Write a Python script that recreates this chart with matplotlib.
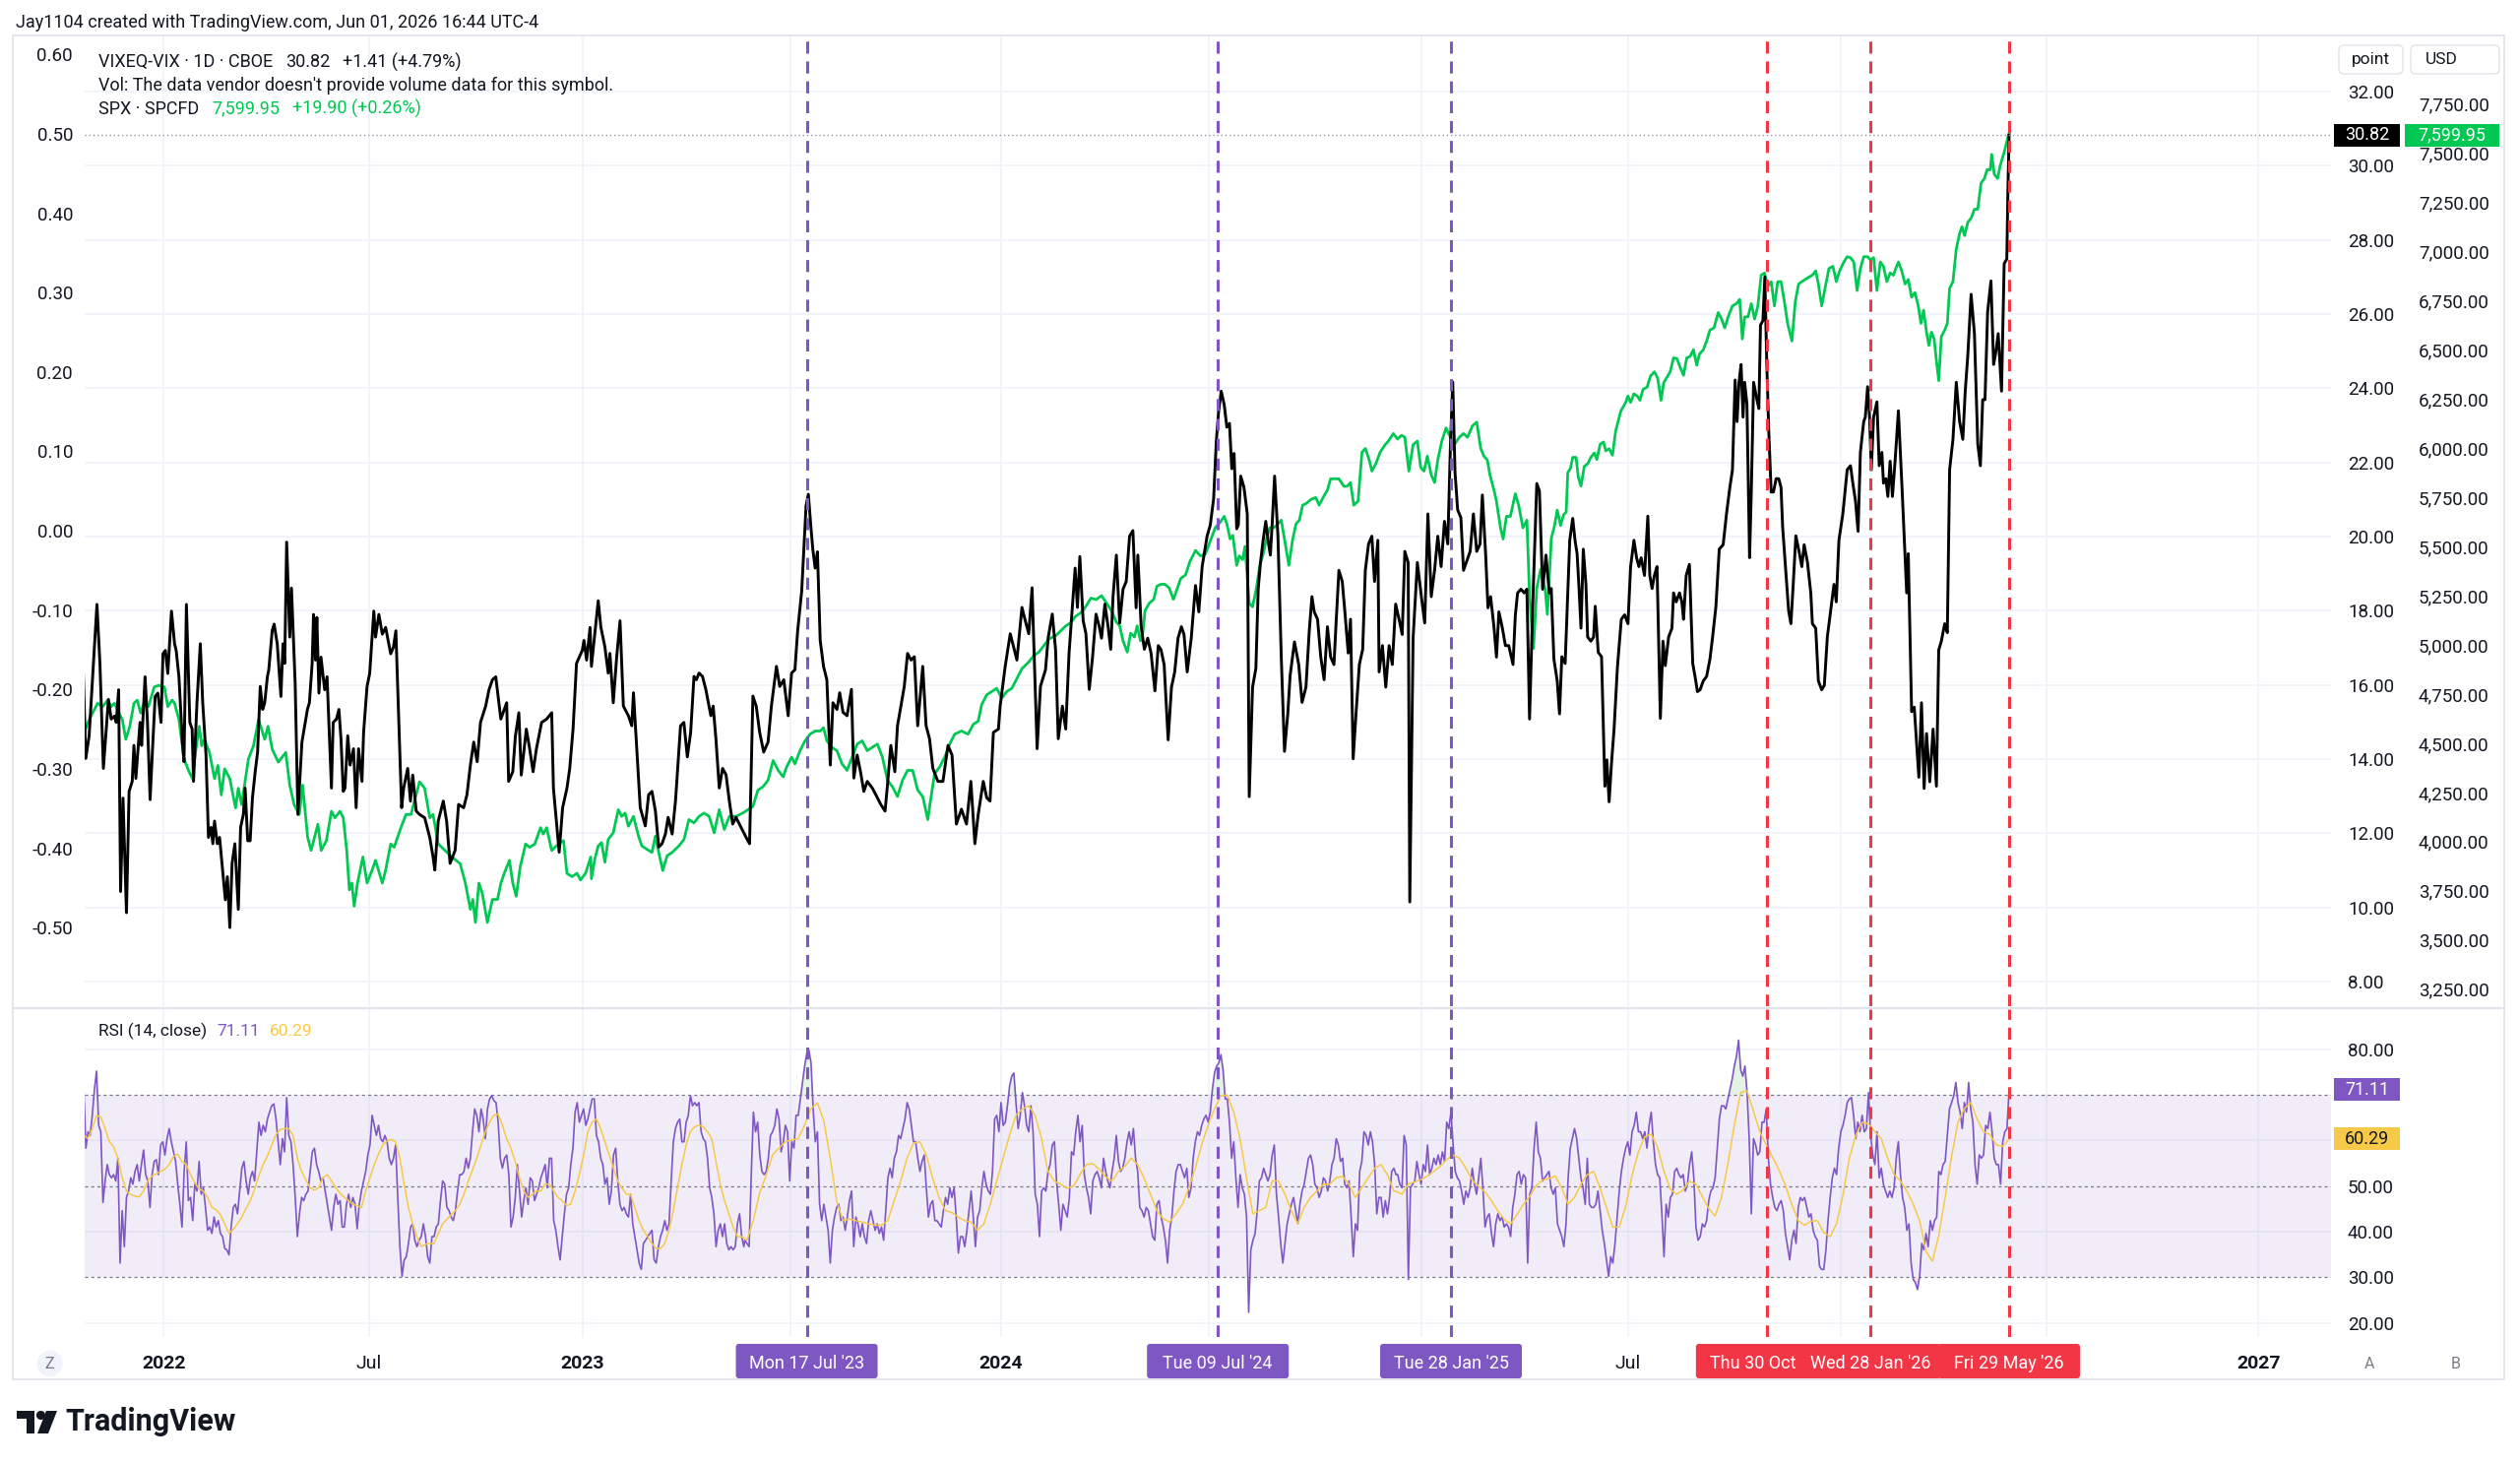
import numpy as np
import pandas as pd
import matplotlib
matplotlib.use("Agg")
import matplotlib.pyplot as plt
import matplotlib.dates as mdates
from matplotlib.patches import Rectangle, FancyBboxPatch, Circle, Polygon
from matplotlib.ticker import FuncFormatter, FixedLocator
from matplotlib.transforms import IdentityTransform
from matplotlib.lines import Line2D

plt.rcParams['font.family'] = ['Roboto', 'DejaVu Sans']
plt.rcParams['axes.unicode_minus'] = False

# ------------------------------------------------------------------
# DATA  (x = calendar days counted from ORIGIN)
# ------------------------------------------------------------------
ORIGIN = "2021-10-01"

# VIXEQ-VIX (point scale)
vix_seg1 = [(23.8,16.52),(26.2,14.02),(29.1,14.63),(35.9,18.17),(38,16.93),(38.5,16.58),(41.5,13.75),(45.9,15.61),(48.3,15.08),(51.2,15.16),(52.7,14.99),(54.8,15.87),(56.5,10.43),(58.6,12.95),(61.6,9.86),(63.9,13.13),(66.6,13.4),(68.1,14.37),(69.8,13.48),(73.4,14.99),(74.8,14.37),(77.8,16.22),(79.9,14.99),(82.2,12.91),(84.6,14.46),(86.6,15.69),(89,15.78),(91.7,14.99),(93.4,16.84),(95.5,16.93),(97.6,16.31),(100.8,17.99),(103.5,17.11),(104.9,16.93),(107.3,16.22),(110.3,14.46),(111.7,13.93),(113.8,18.17),(116.8,14.99),(118.8,14.81),(120,13.4),(123,15.52),(125.9,17.11),(128,15.52),(130.9,14.1),(133,11.89),(135.3,12.16),(136.8,11.72),(138.3,12.33),(140.7,11.72),(142.7,11.89),(144.8,11.19),(147.7,10.21),(149.5,10.83),(151.6,9.46),(153.6,11.19),(156,11.72),(159,9.95),(161,12.16),(163.4,12.51),(164.9,13.22),(167.2,11.8),(169.3,11.8),(171.3,12.95),(173.7,13.66),(175.8,14.19),(178.1,15.96),(180.2,15.34),(182,15.52),(184.3,16.22),(185.5,16.4),(188.5,17.46),(190.2,17.64),(192.9,17.11),(196.1,15.69),(197.9,17.11),(199.4,16.58),(201.1,19.85),(203.8,17.29),(205.3,18.61),(206.5,17.64),(208.5,16.05),(210.9,12.51),(213,13.66),(214.4,14.46),(219.2,15.34),(220.9,15.52),(223.3,16.58),(224.5,17.9),(226.2,16.67),(227.4,17.82),(229.2,15.78),(231,16.75),(234.2,15.87),(236.3,16.22),(240.1,13.22),(241.6,14.99),(244.5,15.08),(246.6,15.34),(248.4,14.55),(250.4,13.13),(251.9,13.22),(254.3,14.63),(256.3,13.84),(259.3,14.28),(261.6,12.69),(263.7,14.28),(266.7,13.4),(268.1,14.72),(271.1,15.96),(273.4,16.31),(277,17.99),(278.5,17.29),(281.4,17.9),(284.4,17.37),(287.3,17.55),(291.7,16.84),(294.1,17.02),(296.2,17.46),(301.2,12.69),(303,13.22),(306.5,13.75),(308.9,12.87),(310.9,13.57),(313.9,12.6),(316.8,12.51),(321.3,12.42),(325.7,11.89),(328.6,11.36),(330.1,11.01),(333.1,12.33),(337.5,12.87),(340.4,12.33),(343.4,11.19),(347.8,11.54),(350.8,12.78),(355.2,12.69),(358.1,13.04),(361.1,13.84),(364,14.46),(367,13.93),(369.9,14.99),(374.4,15.43),(377.3,15.87),(380.3,16.14),(383.2,16.22),(387.6,15.08),(392.7,15.52),(394.4,13.4),(398,13.66),(400.3,14.63),(403.3,15.25),(405.4,13.57),(409.8,14.81),(412.7,14.28),(415.7,13.66),(418.6,14.28),(423.1,14.99),(427.5,15.08),(431.9,15.25),(433.4,13.22),(438.4,11.49),(441.4,12.69),(445.2,13.22),(447.6,13.75),(450.5,14.81),(453.5,16.58),(458.5,16.93),(460,17.2),(462.3,16.67),(465.3,17.55)]
vix_seg2 = [(466.5,16.5),(472.4,18.27),(474.7,17.56),(478.2,17.03),(481.1,16.32),(482.6,16.85),(485.5,15.52),(488.5,16.76),(491.4,17.73),(494.3,15.43),(498.7,15.17),(501.6,14.9),(503.1,15.79),(506,14.28),(509,12.69),(513.4,12.2),(516.3,13.04),(519.2,13.13),(522.2,12.6),(525.1,11.63),(528,11.72),(530.9,11.98),(533.3,12.43),(536.8,11.98),(539.7,12.87),(544.1,14.9),(547,14.99),(550,14.06),(552.9,14.72),(555.8,16.23),(557.9,16.14),(560.2,16.32),(563.2,16.23),(566.1,15.88),(570.5,15.17),(572.5,15.43),(574.9,14.55),(577.8,13.22),(580.7,13.75),(583.7,13.58),(586.6,12.87),(589.5,12.25),(592.4,12.43),(596.8,12.16),(601.2,11.89),(604.2,11.72),(607.1,15.7),(610,15.43),(613,14.72),(616.5,14.19),(620.3,14.46),(623.2,15.43),(627.6,16.5),(630.5,15.96),(634,16.14),(637.8,15.17),(640.8,16.32),(643.7,16.41),(646.1,17.47),(649.6,18.53),(653.4,20.83),(655.4,21.14),(657.5,20.3),(659.2,19.68),(661.3,19.15),(663.3,19.59),(665.7,17.2),(668.6,16.5),(671.5,16.14),(674.5,13.84),(676.8,15.52),(680.3,15.34),(682.7,15.79),(685.6,15.26),(689.1,15.17),(692.9,15.88),(695,13.49),(697.9,14.11),(700.8,13.66),(703.7,13.13),(706.7,13.4),(711.1,13.22),(715.5,12.96),(718.4,12.78),(722.2,12.6),(724.3,13.31),(727.2,14.37),(730.7,13.66),(733,14.9),(736,15.43),(738.9,15.96),(741.8,16.85),(744.8,16.67),(747.7,16.76),(750.6,14.9),(755,16.5),(757.9,14.9),(760.9,14.55),(763.8,13.75),(768.2,13.4),(772.6,13.4),(777,14.37),(780.5,14.11),(784.3,12.25),(788.7,12.65),(793.1,12.25),(796.9,13.4),(800.4,11.72),(803.3,12.51),(807.7,13.4),(810.7,12.96),(813.6,12.87),(816.5,14.72),(820.9,14.81),(822.4,15.43),(826.8,16.5),(831.2,17.38),(834.1,17.03),(837,16.67),(841.4,18.09),(844.3,17.73),(847.3,17.38),(850.2,18.62),(852.5,16.32),(854.6,14.28),(857.5,15.96),(861.9,16.41),(864.3,17.29),(867.8,17.91),(870.7,16.94),(873,14.55),(876.6,15.43),(879.5,14.81),(882.4,16.85),(887.7,19.15),(889.7,18.09),(891.8,19.46),(894.7,17.73),(897.1,17.38),(900,15.88),(902.9,16.76),(905.9,17.91),(908.8,17.56)]
vix_seg3 = [(910.7,17.26),(913.6,18.18),(916.4,17.57),(918.7,16.96),(920.7,18.38),(923.6,19.5),(926.5,17.67),(929.4,18.58),(932.2,18.79),(935.1,20.01),(938,20.16),(940.8,18.08),(942.3,19.5),(945.2,17.57),(948,16.96),(950.9,17.26),(953.8,16.86),(957.2,15.84),(960.1,17.06),(962.4,16.96),(965.2,16.55),(968.7,14.52),(971.6,15.94),(974.4,16.35),(977.3,17.26),(980.2,17.57),(982.5,17.36),(985.3,16.35),(988.8,17.26),(992.5,18.68),(995.4,17.97),(998.3,19.19),(1002.6,20.01),(1005.4,20.31),(1008.3,21.02),(1010.6,22.55),(1012.6,23.36),(1014.9,23.92),(1017.5,23.56),(1019.8,22.95),(1022.1,23.05),(1024.1,21.83),(1026.1,22.24),(1028.4,20.21),(1029.8,20.31),(1031.9,21.63),(1034.7,21.33),(1037.6,20.61),(1039.3,12.99),(1042.2,15.94),(1045.1,16.45),(1047.1,18.58),(1049.1,19.3),(1051.4,19.9),(1053.7,20.41),(1055.7,19.9),(1057.7,19.5),(1059.4,20.41),(1061.4,21.63),(1064.3,20.01),(1067.2,16.75),(1070,14.21),(1072.9,15.23),(1074.9,16.25),(1078.7,17.16),(1082.4,16.55),(1085.3,15.53),(1088.7,15.94),(1091.6,17.47),(1093.9,18.38),(1095.9,17.97),(1098.8,17.77),(1101.6,16.75),(1104.5,16.14),(1107.4,17.57),(1110.2,16.75),(1113.1,16.55),(1115.1,17.77),(1117.4,19.09),(1120.3,18.79),(1122.6,17.97),(1125.5,16.86),(1127.5,17.77),(1129.8,14.01),(1132.3,15.23),(1135.2,16.55),(1138.1,16.96),(1140.4,19.09),(1143.2,19.8),(1146.1,20.01),(1148.4,18.79),(1151.3,19.9),(1152.4,16.35),(1155.3,17.06),(1158.2,15.94),(1161.1,17.06),(1163.9,16.55),(1166.8,18.18),(1170.5,17.67),(1172.5,17.36),(1174.8,19.6),(1177.7,19.3),(1179.1,10.15),(1182,17.26),(1185.7,19.3),(1189.2,18.38),(1192.1,17.67),(1194.9,20.61),(1197.8,18.38),(1200.7,19.09),(1203.5,20.01),(1206.4,19.19),(1209.3,20.41),(1212.2,19.8),(1214.5,22.45),(1216.5,24.17),(1218.5,21.73),(1220.8,20.72),(1223.6,20.51),(1225.9,19.09),(1229.4,19.4),(1231.7,19.6),(1234.5,20.61),(1237.4,19.6),(1240.3,19.8),(1242.3,21.12),(1245.2,19.5),(1247.2,18.08),(1249.5,18.38),(1252.4,17.57),(1254.6,16.75),(1256.7,17.97),(1259.5,17.57),(1262.4,17.06),(1265.3,17.06),(1269,16.55),(1271,17.87),(1273,18.48),(1275.9,18.58),(1278.8,18.48),(1281.1,18.58),(1283.4,15.08),(1286.2,18.18),(1289.7,21.43),(1292,21.23),(1294.8,18.58),(1297.7,19.5),(1300.6,18.48)]
vix_seg4 = [(1302.3,18.6),(1304.6,16.7),(1307.5,16.11),(1309.5,15.22),(1311.5,16.76),(1314.4,16.58),(1316.7,18.48),(1318.4,19.9),(1321,20.49),(1323,19.9),(1324.8,19.54),(1326.5,18.6),(1328.2,17.53),(1330.2,19.66),(1332.5,18.71),(1334,17.29),(1336.8,17.18),(1339.2,17.29),(1340.6,18.12),(1343.2,16.88),(1346.1,16.76),(1349,13.27),(1350.7,13.98),(1352.7,12.85),(1354.7,13.86),(1357,14.81),(1359.9,16.47),(1363.3,17.77),(1366.2,17.89),(1369.1,17.65),(1371.4,19.19),(1374.3,19.9),(1376.6,19.43),(1378.6,19.19),(1380.6,19.43),(1383.5,18.95),(1386.4,20.55),(1388.1,18.95),(1390.1,18.6),(1392.1,18.95),(1394.4,19.19),(1397.3,15.1),(1399.6,17.18),(1401.6,16.52),(1404.5,17.29),(1407.4,17.53),(1408.8,18.48),(1411.1,18.24),(1414,18.48),(1416,18.24),(1417.5,17.77),(1419.8,18.95),(1422.6,19.25),(1425.5,16.58),(1427.5,16.23),(1429.6,15.82),(1431.9,15.87),(1434.7,16.11),(1437.6,16.23),(1440.5,16.7),(1442.8,17.29),(1445.7,18.12),(1448.6,19.66),(1452,19.78),(1454.9,20.61),(1457.8,21.32),(1460.1,21.8),(1462.4,24.22),(1464.1,23.1),(1465.8,24.16),(1467.6,24.64),(1469.3,23.22),(1470.7,24.16),(1472.7,23.57),(1475,19.43),(1476.5,21.2),(1478.5,24.16),(1481.4,23.69),(1483.1,23.45),(1484.5,25.7),(1486.6,25.82),(1488.3,27.0),(1490,24.64),(1491.7,22.86),(1493.8,21.2),(1495.8,21.2),(1498.1,21.56),(1500.4,21.56),(1502.4,21.32),(1503.8,20.25),(1507.3,18.71),(1509,18.0),(1511,17.65),(1513,18.71),(1515.3,20.02),(1517.7,19.66),(1520.5,19.19),(1522.5,19.78),(1525.4,19.31),(1528.3,18.48),(1529.7,17.65),(1532.6,17.53),(1534.9,16.11),(1537.8,15.87),(1540.1,15.99),(1542.7,17.29),(1545.6,18.0),(1548.5,18.71),(1550.5,18.24),(1552.8,19.9),(1556.2,20.61),(1560,21.8),(1562.9,21.91),(1564.9,21.44),(1567.2,20.97),(1569.5,20.14),(1571.5,22.27),(1574.4,23.1),(1575.8,23.22),(1577.8,24.04),(1579.5,23.22),(1581,21.8),(1583,23.22),(1585.9,23.63),(1587.9,21.91),(1590.2,22.27),(1591.6,21.44),(1593.7,21.56),(1595.4,21.08),(1597.4,22.03),(1599.4,21.08),(1601.7,22.03),(1604.6,23.39),(1608.1,21.08),(1611.8,18.48),(1613.2,19.54),(1616.1,15.28),(1618.4,15.4),(1620.4,14.45),(1622.4,13.51),(1624.7,15.52),(1627,13.21),(1629.1,14.69),(1631.9,13.39),(1634.8,14.81),(1637.7,13.27),(1639.7,16.94),(1642,17.18),(1644.9,17.65),(1647.2,17.41),(1649.2,21.8),(1652.1,22.62),(1655,24.16),(1657.9,23.1),(1660.7,22.62),(1662.8,23.92),(1665,24.87),(1667.9,26.53),(1670.8,25.47),(1673.7,22.5),(1676,21.91),(1678,23.69),(1680,23.69),(1682.3,26.06),(1685.2,26.89),(1687.5,24.64),(1689.5,24.99),(1691.5,25.47),(1694.4,23.92),(1696.7,27.36),(1699,27.48),(1700,29.41),(1701,30.82)]

# SPX (USD scale)
spx_seg1 = [(24.7,4553),(29.1,4620),(36.5,4703),(40.9,4686),(45.3,4719),(48.3,4686),(51.2,4703),(55.1,4653),(58,4620),(61,4520),(64.5,4586),(68.1,4703),(71,4719),(74,4653),(77.8,4719),(80.7,4686),(85.8,4786),(89.6,4794),(94.6,4786),(97.6,4686),(101.4,4719),(103.5,4703),(107.3,4620),(111.7,4420),(116.2,4354),(119.1,4320),(122.1,4470),(125,4586),(127.1,4487),(129.4,4520),(133.9,4453),(138.3,4320),(141.2,4387),(144.2,4237),(147.1,4370),(151.6,4320),(156.6,4171),(159,4271),(161.9,4188),(167.8,4420),(172.2,4487),(176.7,4620),(182,4520),(184.9,4586),(188.5,4470),(193.8,4404),(200.3,4453),(203.8,4287),(207.6,4188),(212.1,4138),(215,4287),(219.4,4021),(222.4,3955),(228.3,4088),(231.2,3955),(235.7,4005),(240.1,4154),(243.1,4121),(247.5,4154),(250.4,4121),(253.4,3955),(255.7,3755),(257.8,3789),(259.9,3672),(262.8,3789),(267.5,3922),(271.1,3789),(275.5,3855),(278.5,3905),(284.4,3789),(287.3,3855),(291.7,3988),(294.7,3971),(300.6,4071),(305,4138),(309.4,4138),(316.8,4304),(321.3,4271),(325.7,4121),(328.6,4138),(333.1,3988),(339,3955),(344.9,3922),(352.2,3888),(356.7,3789),(361.1,3656),(363.2,3706),(365.5,3589),(368.5,3789),(371.4,3739),(375.9,3589),(380.3,3706),(384.7,3706),(387.7,3789),(390.6,3839),(395.1,3905),(398,3789),(401,3722),(404.5,3872),(409.2,3988),(412.7,3971),(417.2,3988),(422.2,4071),(424.5,4038),(427.5,4071),(431.9,3955),(437.8,3988),(442.2,4005),(445.2,3838),(449.6,3822),(454,3839),(457,3805),(461.4,3839),(465.9,3922)]
spx_seg2 = [(466.5,3811),(469.4,3911),(472.4,3978),(475.3,3995),(478.2,3895),(481.1,4011),(485.5,4045),(489.9,4162),(492.9,4128),(495.8,4145),(498.7,4078),(503.1,4128),(507.5,4028),(510.4,3978),(514.8,3961),(519.2,3945),(522.2,4028),(525.1,3945),(528.6,3853),(532.4,3928),(536.8,3945),(542.7,3978),(547.1,4011),(551.4,4112),(555.8,4095),(560.2,4128),(564.6,4145),(569,4128),(573.4,4045),(577.8,4162),(582.2,4062),(586.6,4128),(592.4,4128),(598.3,4145),(602.7,4162),(607.1,4178),(611.5,4262),(615.9,4279),(620.3,4312),(624.7,4412),(629.1,4362),(633.5,4329),(636.4,4379),(640.8,4429),(643.7,4395),(648.1,4462),(652.5,4512),(656.9,4546),(661.3,4562),(665.7,4562),(668.6,4579),(671.5,4512),(675.9,4479),(680.3,4462),(684.7,4395),(689.1,4362),(693.5,4429),(697.9,4496),(702.3,4512),(706.7,4462),(711.1,4479),(715.5,4496),(719.9,4429),(724.3,4312),(728.6,4279),(733,4229),(737.4,4312),(741.8,4362),(746.2,4362),(750.6,4262),(755,4229),(759.4,4112),(762.3,4229),(765.3,4345),(769.7,4379),(774.1,4429),(778.5,4496),(782.8,4546),(788.7,4562),(794.5,4546),(799,4596),(803.3,4612),(806.3,4696),(810.7,4746),(815.1,4763),(819.4,4779),(823.8,4729),(828.2,4763),(832.6,4779),(837,4829),(841.4,4879),(847.3,4913),(851.7,4946),(856.1,4963),(860.5,4996),(864.8,5030),(870.7,5046),(875.1,5071),(879.5,5096),(883.9,5113),(888.3,5146),(892.7,5163),(897.1,5196),(901.5,5238),(905.9,5230)]
spx_seg3 = [(910.7,5250),(915,5212),(919.3,5174),(923.6,5116),(926.5,5097),(929.4,5021),(933.1,4963),(936,5059),(939.4,5040),(941.7,5097),(944.6,5021),(946.6,5059),(948.6,5174),(952.3,5212),(956.1,5231),(958.9,5298),(962.4,5308),(965.8,5308),(969.6,5289),(973.3,5231),(976.2,5279),(979.6,5337),(983.9,5356),(987.6,5423),(992.5,5480),(996.8,5452),(1001.1,5461),(1005.4,5528),(1009.7,5595),(1014.1,5624),(1017.5,5653),(1019.8,5615),(1022.7,5538),(1025,5557),(1028.4,5404),(1030.7,5452),(1033.6,5433),(1035.6,5500),(1039.3,5212),(1042.2,5193),(1045.6,5289),(1048.5,5404),(1051.4,5461),(1054.3,5538),(1057.1,5595),(1060.6,5595),(1064.3,5615),(1067.2,5634),(1070,5538),(1073.8,5404),(1077.2,5538),(1080.1,5615),(1083,5634),(1085.8,5710),(1089.3,5720),(1093,5739),(1097.3,5749),(1100.2,5710),(1103.6,5749),(1107.4,5787),(1110.2,5844),(1114,5844),(1117.4,5844),(1121.7,5806),(1124.6,5806),(1127.5,5825),(1130.3,5710),(1134.1,5730),(1137.5,5979),(1140.4,5998),(1143.8,5940),(1146.1,5883),(1149.6,5921),(1153.3,5979),(1157.6,6017),(1160.5,6036),(1164.8,6074),(1168.5,6046),(1172,6065),(1174.8,6055),(1178.3,5883),(1182,6017),(1185.7,6036),(1188.6,5902),(1191.5,5883),(1194.4,5959),(1197.8,5864),(1200.7,5825),(1203.5,5940),(1207,6036),(1210.7,6103),(1214.5,6055),(1217.9,6017),(1222.2,6055),(1225.9,6074),(1229.4,6055),(1233.7,6113),(1237.4,6132),(1240.9,5998),(1243.7,5959),(1246.6,5940),(1248.9,5864),(1252.4,5787),(1254.6,5730),(1258.1,5595),(1260.4,5538),(1263.3,5653),(1266.7,5653),(1271,5768),(1273.9,5710),(1277.6,5595),(1281.1,5634),(1283.4,5250),(1286.8,4982),(1289.7,5289),(1293.1,5385),(1296.9,5289),(1298.9,5155),(1301.7,5461)]
spx_seg4 = [(1302.3,5540),(1305.2,5607),(1307.5,5685),(1310.4,5607),(1313.2,5663),(1315.3,5674),(1316.7,5875),(1319,5897),(1321,5953),(1323.9,5953),(1325.9,5852),(1328.2,5807),(1331.1,5908),(1334,5920),(1336.8,5953),(1339.7,5975),(1342,5942),(1344.9,6020),(1347.8,6031),(1349.8,5986),(1352.7,5997),(1355.6,5964),(1358.4,6087),(1362.8,6187),(1367.1,6232),(1369.1,6265),(1371.4,6232),(1374.3,6276),(1377.2,6265),(1379.5,6243),(1382.3,6299),(1385.8,6310),(1388.7,6366),(1392.1,6388),(1395,6355),(1397.9,6243),(1400.2,6332),(1403.6,6366),(1405.9,6388),(1408.8,6459),(1411.7,6455),(1414.6,6410),(1417.5,6370),(1420.3,6459),(1423.2,6466),(1426.1,6500),(1429,6421),(1431.3,6477),(1434.7,6500),(1437.6,6544),(1440.5,6600),(1444,6611),(1447.7,6689),(1450.6,6656),(1453.4,6611),(1456.3,6667),(1460.1,6723),(1463.5,6734),(1466.4,6756),(1468.7,6555),(1470.7,6667),(1473.6,6667),(1476.5,6734),(1479.4,6656),(1482.2,6723),(1485.1,6879),(1488,6890),(1490.9,6823),(1493.8,6846),(1496.6,6723),(1499.5,6846),(1502.4,6846),(1505.3,6745),(1508.1,6634),(1511.9,6544),(1514.8,6745),(1517.7,6834),(1520.5,6846),(1523.4,6857),(1526.3,6868),(1529.7,6879),(1532.6,6901),(1534.9,6834),(1537.8,6723),(1540.7,6812),(1544.1,6913),(1547.6,6924),(1550.5,6846),(1553.4,6901),(1557.1,6946),(1560,6973),(1562.9,6968),(1565.7,6946),(1568.6,6801),(1571.5,6913),(1574.4,6973),(1577.8,6973),(1580.1,6957),(1583,6968),(1585.9,6801),(1588.8,6946),(1591.6,6924),(1594.5,6846),(1597.4,6890),(1600.3,6879),(1602.3,6913),(1604.6,6946),(1607.5,6901),(1610.4,6834),(1613.2,6857),(1616.1,6767),(1619,6790),(1621.9,6723),(1624.2,6634),(1626.5,6701),(1629.1,6589),(1631.1,6522),(1633.4,6589),(1635.7,6555),(1637.7,6444),(1639.7,6343),(1642,6567),(1644.9,6600),(1647.2,6634),(1649.2,6812),(1652.1,6846),(1655,7013),(1657.9,7091),(1659.9,7125),(1662.2,7080),(1665,7147),(1667.9,7169),(1670.8,7214),(1673.7,7214),(1676.6,7348),(1679.5,7370),(1681.8,7415),(1684.6,7415),(1685.8,7493),(1688.1,7392),(1691,7370),(1693.3,7437),(1696.7,7504),(1700,7580.05),(1701,7599.95)]

# RSI(14) and its moving average, read at evenly spaced dates inside each span
rsi_seg1_span = (24.4, 599.2)
rsi_seg1 = [71.6,58.3,61.9,61.1,65.5,71.2,75.2,63.3,61.9,46.4,51.1,54.7,52.5,51.8,52.5,51.1,56.1,33.1,44.6,36.7,47.5,48.9,51.8,50.4,53.2,54.7,51.1,54.7,57.9,52.5,51.1,45.3,52.5,55.4,55.8,52.5,59.0,59.7,56.8,60.4,62.6,59.7,57.5,55.4,50.4,46.0,41.0,53.2,59.7,46.8,47.5,42.4,50.4,48.9,55.4,48.2,49.6,45.3,40.3,41.0,39.6,43.2,41.0,42.4,39.6,38.9,36.3,36.0,34.9,41.0,45.3,46.0,43.9,48.9,53.9,55.4,51.1,48.2,51.8,53.2,51.1,57.5,64.0,61.1,63.3,61.9,64.7,66.2,67.6,68.0,64.7,59.7,54.7,60.4,57.5,69.4,61.1,59.7,54.7,47.5,38.9,43.9,47.5,46.8,48.2,48.9,53.2,57.5,58.3,54.7,53.2,51.1,51.8,48.9,46.0,43.2,40.3,45.3,48.2,46.0,46.8,41.0,41.0,46.0,48.2,45.3,47.5,46.0,40.6,46.0,48.9,51.1,53.2,56.8,59.0,65.5,63.3,61.1,63.3,60.4,59.7,61.1,59.7,56.1,54.7,56.1,59.0,47.5,36.7,30.2,33.8,34.5,37.4,41.0,41.7,38.1,36.7,38.1,38.9,41.7,38.9,34.5,33.1,38.9,38.9,41.0,41.7,46.8,51.1,50.4,45.3,44.6,43.2,42.4,44.6,48.9,52.5,52.5,53.2,56.1,53.9,56.1,61.9,66.9,65.5,61.9,66.9,64.7,60.4,66.9,69.1,69.8,68.7,68.3,64.0,56.1,53.9,56.1,56.8,52.5,41.0,43.2,47.5,54.7,48.9,43.2,46.8,49.6,46.0,51.8,51.1,46.8,48.2,49.6,51.8,53.2,54.7,49.6,56.1,56.1,42.4,40.3,36.7,33.8,38.9,43.9,48.2,49.6,54.7,58.3,66.2,68.3,64.0,65.5,66.9,63.3,64.7,66.9,69.1,69.1,61.1,59.7,56.1,54.7,50.4,51.8,46.0,48.9,56.8,58.3,51.1,46.0,44.6,45.3,43.9,43.2,48.2,41.7,38.9,36.0,33.1,31.7,37.4,38.1,38.9,39.6,40.3,33.8,33.1,36.7,38.9,40.3,42.4,40.3,41.7,51.1,59.7,62.6,64.0,64.7,59.7,59.7,64.0,65.5,69.8,67.6,68.3,67.6,68.3,61.9,60.4,59.7,56.1,49.6,47.5,43.9,36.7,40.3,41.7,38.9,41.7,37.4,36.0,36.7,36.0,36.7,41.7,43.9,38.9,36.7]
rsi_seg2_span = (600.1, 1167.1)
rsi_seg2 = [38.1,37.4,36.7,52.5,66.2,61.9,64.0,56.8,53.2,52.5,53.2,56.1,61.1,61.9,63.3,66.9,64.7,57.5,59.7,63.3,61.9,51.1,59.7,58.3,65.5,65.5,69.1,72.7,76.3,79.1,79.8,77.0,66.9,59.7,61.9,46.0,42.4,46.0,43.2,40.3,33.1,40.3,43.2,45.3,46.0,42.4,43.2,40.3,43.2,46.8,48.9,36.7,43.2,41.7,38.9,41.7,38.9,37.4,42.4,44.6,42.4,40.3,41.7,39.6,41.0,38.1,44.6,51.8,53.9,51.8,56.1,57.5,61.1,60.4,62.6,64.7,68.3,66.9,63.3,59.7,59.7,56.1,53.2,55.4,56.8,49.6,43.2,46.0,46.8,42.4,42.4,41.7,41.0,44.6,47.5,46.0,49.6,47.5,49.6,43.2,35.3,38.9,38.9,36.7,40.3,44.6,48.9,43.2,36.7,43.2,44.6,49.6,53.2,50.4,48.9,48.2,53.2,64.7,65.5,61.9,68.3,63.3,64.0,67.6,71.9,74.1,74.8,68.3,62.6,65.5,70.5,67.6,63.3,61.9,67.6,61.9,48.2,46.0,38.9,48.9,49.6,48.9,53.2,54.7,59.0,59.7,51.1,46.0,40.3,46.0,44.6,43.2,47.5,57.5,56.8,61.9,65.5,59.7,63.3,52.5,49.6,47.5,43.9,51.1,52.5,53.2,51.8,49.6,56.1,53.2,51.1,49.6,53.2,56.1,61.1,55.4,53.2,53.9,56.1,59.7,61.9,59.0,62.6,56.1,53.2,45.3,44.6,43.2,45.3,44.6,41.7,38.9,38.1,46.0,46.8,43.2,41.0,38.1,33.1,40.3,43.2,48.9,53.2,54.7,54.7,53.2,51.8,53.9,47.5,49.6,56.1,59.7,61.9,61.1,63.3,64.7,65.5,64.0,66.2,71.2,74.8,76.3,77.0,78.8,75.5,69.1,69.1,64.0,56.1,59.7,51.8,45.3,52.5,49.6,48.2,43.2,22.3,36.0,38.1,39.6,44.6,51.1,51.8,53.9,52.5,51.1,52.5,56.8,59.0,48.2,43.2,37.4,33.1,37.4,41.7,43.9,46.0,47.5,44.6,41.7,46.0,48.9,50.4,53.2,56.1,56.8,54.7,50.4,49.6,47.5,48.9,51.8,51.1,48.9,51.1,54.7,56.1,60.4,59.0,55.4,56.1,50.4,49.6,51.1,43.2,34.5,41.7,40.3,53.2,55.4,61.9,61.1,59.0,61.9,59.7,54.7,43.9,47.5,47.5,43.2,46.8,43.9,47.5,53.2,53.9,52.5]
rsi_seg3_span = (1168.6, 1701.0)
rsi_seg3 = [52.5,50.4,49.6,61.1,59.0,29.5,49.6,50.4,51.1,55.4,52.5,50.4,54.7,53.2,59.0,52.5,53.9,56.1,54.7,56.8,54.7,57.5,55.4,64.0,62.6,66.2,59.0,53.2,51.8,51.1,48.9,46.0,48.9,47.5,49.6,53.9,50.4,48.2,51.8,56.1,49.6,41.0,43.2,43.9,39.6,36.7,41.7,43.9,42.4,43.2,41.0,41.7,41.0,38.9,45.3,48.2,52.5,53.2,50.4,52.5,51.8,33.1,48.2,49.6,58.3,64.0,57.5,56.1,51.1,51.8,52.5,53.2,49.6,48.2,49.6,41.7,40.3,38.9,36.7,41.7,51.8,58.3,60.4,62.6,60.4,56.1,51.8,49.6,46.0,56.1,46.0,45.3,45.3,46.0,48.9,44.6,40.3,37.4,33.8,30.2,34.5,33.1,37.4,43.2,48.9,53.2,56.1,58.3,59.7,56.8,61.9,63.3,66.2,61.9,61.9,60.4,61.9,58.3,63.3,66.2,59.7,54.7,52.5,51.8,43.9,34.5,46.0,43.2,47.5,48.2,53.2,53.9,52.5,51.8,52.5,48.9,50.4,54.7,57.5,51.8,41.0,38.1,38.9,41.7,41.0,42.4,46.8,48.9,49.6,51.8,58.3,64.7,67.6,67.6,66.9,69.1,71.2,73.4,76.3,78.4,82.0,75.5,74.1,76.3,70.5,60.4,43.9,60.4,59.0,56.8,57.5,64.0,64.0,66.9,56.1,50.4,47.5,45.3,44.6,46.0,46.8,44.6,39.6,36.7,33.8,38.1,40.3,37.4,45.3,47.5,46.8,47.5,45.3,43.2,43.9,40.3,38.9,38.1,32.4,31.7,31.7,36.0,42.4,47.5,51.8,53.9,52.5,58.3,61.9,63.3,65.5,68.3,69.1,69.4,65.5,60.4,64.0,61.9,65.5,61.9,62.6,70.5,61.1,56.8,54.7,61.9,51.8,53.9,50.4,48.9,47.5,48.9,47.5,49.6,56.1,59.7,52.5,47.5,45.3,40.3,41.7,33.1,29.5,28.8,27.3,30.2,37.4,36.0,39.6,36.7,42.4,40.3,42.4,43.2,53.2,52.5,54.7,55.4,61.1,66.9,68.3,69.8,72.7,68.3,66.2,62.6,68.3,66.2,72.7,66.9,64.0,54.7,50.4,56.8,56.1,56.8,63.3,62.6,66.2,61.9,56.1,54.7,54.7,50.4,59.7,61.9,62.6,71.11]

ma_seg1_span = (24.4, 597.3)
ma_seg1 = [61.1,60.4,62.6,65.5,65.1,62.6,59.7,58.6,56.1,51.8,48.9,48.1,47.8,47.6,48.9,51.1,52.2,52.7,53.2,53.7,54.7,56.5,57.0,55.4,54.7,52.5,50.7,49.4,48.9,47.5,45.3,44.8,43.7,41.7,39.6,40.5,41.7,43.2,45.1,46.8,49.3,52.3,54.7,56.6,59.0,61.3,62.4,62.6,62.6,61.1,56.1,53.2,51.3,49.6,49.1,49.6,51.8,52.5,51.1,49.6,48.4,47.5,46.8,46.0,45.7,45.3,48.9,51.8,54.7,57.0,59.0,59.9,60.2,59.7,56.1,50.4,45.3,41.7,38.9,36.7,37.2,37.4,37.4,39.6,41.7,42.7,43.7,44.6,46.0,48.2,51.1,53.5,56.1,59.0,61.9,64.0,65.5,65.8,63.3,60.4,58.3,55.4,51.8,48.9,47.5,48.2,48.9,48.9,50.4,50.4,48.9,47.5,46.8,45.7,46.0,48.9,52.5,56.8,61.9,64.0,64.7,62.6,59.7,56.8,53.9,51.1,49.6,48.2,48.2,45.3,42.4,40.3,38.9,37.4,36.3,36.3,37.4,40.3,44.6,49.6,54.7,59.0,61.9,63.0,63.3,63.0,61.9,60.4,55.4,50.4,46.8,43.9,41.0,38.9,38.9]
ma_seg2_span = (601.9, 1165.2)
ma_seg2 = [38.1,42.4,48.6,52.3,56.8,58.3,59.7,60.1,60.4,63.3,67.0,68.2,64.4,56.1,46.8,42.4,42.8,42.4,42.1,41.7,41.4,41.4,42.4,46.8,51.1,56.1,59.4,59.7,56.8,51.8,47.5,44.6,44.2,43.2,42.4,42.1,40.3,41.7,46.0,51.1,56.1,61.1,65.5,66.9,67.6,65.5,60.4,53.2,51.1,50.4,49.5,50.0,52.5,54.7,54.9,53.7,52.0,51.1,53.2,54.3,56.1,54.7,51.8,48.2,44.6,42.8,42.1,43.9,46.0,49.6,53.9,59.0,63.3,66.9,69.8,70.0,66.2,60.4,51.8,43.9,44.6,45.3,51.1,51.1,48.2,44.6,41.7,45.3,47.5,48.9,50.4,50.4,51.8,52.1,50.4,47.5,49.6,51.8,53.9,54.7,52.5,48.9]
ma_seg3_span = (1166.7, 1701.0)
ma_seg3 = [48.9,48.2,50.4,50.9,51.4,52.2,53.2,54.3,55.8,56.8,56.1,53.9,51.3,49.9,48.7,46.8,44.6,42.7,41.7,43.7,46.0,47.7,50.1,51.3,51.6,52.2,49.6,46.0,47.5,50.4,52.5,53.2,49.6,45.3,41.0,41.0,45.5,52.3,57.5,60.8,61.4,58.5,53.2,49.3,48.2,49.1,51.1,50.4,47.7,45.1,43.4,47.5,54.9,63.3,70.5,70.9,66.4,61.9,59.0,56.3,53.5,50.1,46.0,42.4,41.4,42.3,42.4,39.8,38.9,41.7,48.0,56.1,61.1,64.0,63.6,61.9,60.4,56.1,52.5,51.1,48.9,46.0,42.4,35.6,33.5,39.2,47.5,56.5,64.0,67.0,68.3,64.7,61.9,61.3,59.0,58.7,60.29]

# annotations
purple_marks = ["2023-07-17", "2024-07-09", "2025-01-28"]
red_marks = ["2025-10-30", "2026-01-28", "2026-05-29"]
time_labels = [("2022-01-03", "2022", True), ("2022-07-01", "Jul", False), ("2023-01-03", "2023", True),
               ("2024-01-02", "2024", True), ("2025-07-01", "Jul", False), ("2027-01-01", "2027", True)]
grid_dates = ["2022-01-03", "2022-07-01", "2023-01-03", "2023-07-03", "2024-01-02", "2024-07-01",
              "2025-01-02", "2025-07-01", "2026-01-02", "2026-07-01", "2027-01-01"]
point_ticks = list(range(8, 33, 2))
usd_ticks = list(range(3250, 7751, 250))
left_ticks = [-0.5, -0.4, -0.3, -0.2, -0.1, 0.0, 0.1, 0.2, 0.3, 0.4, 0.5, 0.6]
rsi_ticks = [20, 30, 40, 50, 80]
header = "Jay1104 created with TradingView.com, Jun 01, 2026 16:44 UTC-4"

# ------------------------------------------------------------------
base = mdates.date2num(pd.Timestamp(ORIGIN))
def xnum(days):
    return base + np.asarray(days, float)
def dnum(s):
    return mdates.date2num(pd.Timestamp(s))
def unpack(*segs):
    pts = [p for s in segs for p in s]
    return xnum([p[0] for p in pts]), np.array([p[1] for p in pts], float)
def even(pairs):
    xs, ys = [], []
    for span, vals in pairs:
        xs.append(xnum(np.linspace(span[0], span[1], len(vals))))
        ys.append(np.array(vals, float))
    return np.concatenate(xs), np.concatenate(ys)

vx, vy = unpack(vix_seg1, vix_seg2, vix_seg3, vix_seg4)
sx, sy = unpack(spx_seg1, spx_seg2, spx_seg3, spx_seg4)
rx, ry = even([(rsi_seg1_span, rsi_seg1), (rsi_seg2_span, rsi_seg2), (rsi_seg3_span, rsi_seg3)])
mx, my = even([(ma_seg1_span, ma_seg1), (ma_seg2_span, ma_seg2), (ma_seg3_span, ma_seg3)])

W, H = 2560, 1487
fig = plt.figure(figsize=(W / 100, H / 100), dpi=100)
fig.patch.set_facecolor("white")
ID = IdentityTransform()
def fx(x): return x / W
def fy(y): return 1 - y / H

TXT = "#131722"; GRID = "#f0f3fa"; BORDER = "#e0e3eb"
PURPLE = "#7E57C2"; RED = "#F23645"; GREEN = "#00C853"; YELLOW = "#F7C948"
FS = 13.5

PL, PR = 86, 2368
MT, MB = 36.7, 1022
RT, RB = 1024.5, 1358.4
XL = (xnum(25.2), xnum(1981.3))

def clean(ax):
    for s in ax.spines.values():
        s.set_visible(False)
    ax.tick_params(axis="x", which="both", bottom=False, top=False, labelbottom=False, labeltop=False)
    ax.set_facecolor("none")

ax0 = fig.add_axes([fx(PL), fy(MB), (PR - PL) / W, (MB - MT) / H])
clean(ax0)
ax0.set_xlim(XL)
ax0.set_ylim(7.34, 33.49)
ax0.yaxis.set_major_locator(FixedLocator(point_ticks))
ax0.grid(axis="y", color=GRID, lw=1.3)
for d in grid_dates:
    ax0.axvline(dnum(d), color=GRID, lw=1.3, zorder=0)

ax_l = ax0.twinx(); clean(ax_l)
ax_l.yaxis.tick_left()
ax_l.set_ylim(-0.5991, 0.6233)
ax_l.yaxis.set_major_locator(FixedLocator(left_ticks))
ax_l.yaxis.set_major_formatter(FuncFormatter(lambda v, p: f"{0.0 if abs(v) < 1e-9 else v:.2f}"))
ax_l.tick_params(axis="y", length=0, pad=8.6, labelsize=FS, labelcolor=TXT)

ax_g = ax0.twinx(); clean(ax_g)
ax_g.set_ylim(3163.4, 8094)
ax_g.yaxis.set_major_locator(FixedLocator(usd_ticks))
ax_g.yaxis.set_major_formatter(FuncFormatter(lambda v, p: f"{v:,.2f}"))
ax_g.tick_params(axis="y", length=0, pad=64, labelsize=FS, labelcolor=TXT)
ax_g.plot(sx, sy, color=GREEN, lw=2.0, solid_joinstyle="round")

ax_b = ax0.twinx(); clean(ax_b)
ax_b.set_ylim(7.34, 33.49)
ax_b.yaxis.set_major_locator(FixedLocator(point_ticks))
ax_b.yaxis.set_major_formatter(FuncFormatter(lambda v, p: f"{v:.2f}"))
ax_b.tick_params(axis="y", length=0, pad=12.2, labelsize=FS, labelcolor=TXT)
ax_b.plot(vx, vy, color="black", lw=2.1, solid_joinstyle="round")
ax_b.axhline(vy[-1], color="#9598a1", lw=1.0, ls=(0, (1, 2)))
ax_b.set_xlim(XL)
# twinx re-enables ticks on the host axes: switch them off again
ax0.tick_params(axis="y", which="both", left=False, right=False, labelleft=False, labelright=False, length=0)

ax_r = fig.add_axes([fx(PL), fy(RB), (PR - PL) / W, (RB - RT) / H], sharex=ax0)
clean(ax_r)
ax_r.set_xlim(XL)
ax_r.set_ylim(16.8, 88.9)
ax_r.yaxis.tick_right()
ax_r.yaxis.set_major_locator(FixedLocator(rsi_ticks))
ax_r.yaxis.set_major_formatter(FuncFormatter(lambda v, p: f"{v:.2f}"))
ax_r.tick_params(axis="y", length=0, pad=12.2, labelsize=FS, labelcolor=TXT)
for lv in (20, 40, 60, 80):
    ax_r.axhline(lv, color=GRID, lw=1.3, zorder=0)
for d in grid_dates:
    ax_r.axvline(dnum(d), color=GRID, lw=1.3, zorder=0)
ax_r.axhspan(30, 70, color=PURPLE, alpha=0.1, lw=0)
for lv in (70, 50, 30):
    ax_r.axhline(lv, color="#787b86", lw=0.9, ls=(0, (2.5, 2.5)))
ax_r.fill_between(rx, ry, 70, where=ry > 70, interpolate=True, color="#4caf50", alpha=0.15, lw=0)
ax_r.fill_between(rx, ry, 30, where=ry < 30, interpolate=True, color="#f23645", alpha=0.15, lw=0)
ax_r.plot(rx, ry, color=PURPLE, lw=1.2)
ax_r.plot(mx, my, color=YELLOW, lw=1.1)

# marker lines
for marks, col in ((purple_marks, PURPLE), (red_marks, RED)):
    for d in marks:
        for ax in (ax_b, ax_r):
            ax.axvline(dnum(d), color=col, lw=2.2, dashes=(4, 2.6), zorder=6)

# frame and separator
fig.add_artist(Rectangle((13, H - 1401), 2544 - 13, 1401 - 36, transform=ID, fill=False, ec=BORDER, lw=1.2))
fig.add_artist(Line2D([13, 2544], [H - 1023.5, H - 1023.5], transform=ID, color=BORDER, lw=1.5))

fig.canvas.draw()
R = fig.canvas.get_renderer()

def ypix(ax, v):
    return ax.transData.transform((XL[0], v))[1]
def xpix(ax, d):
    return ax.transData.transform((d, 0))[0]

def tag(x0, x1, yc, s, fc, tc):
    fig.add_artist(Rectangle((x0, yc - 11.5), x1 - x0, 23, transform=ID, fc=fc, ec="none", zorder=20))
    fig.text((x0 + x1) / 2, yc, s, transform=ID, ha="center", va="center", color=tc, fontsize=13, zorder=21)

yb = ypix(ax_b, vy[-1])
tag(2371, 2438, yb, f"{vy[-1]:.2f}", "#000000", "white")
tag(2443, 2539, yb, f"{sy[-1]:,.2f}", GREEN, "white")
tag(2371, 2438, ypix(ax_r, ry[-1]), f"{ry[-1]:.2f}", PURPLE, "white")
tag(2371, 2438, ypix(ax_r, my[-1]), f"{my[-1]:.2f}", YELLOW, TXT)

# scale headers
for (x0, x1, s, tx) in ((2376, 2441, "point", 2408.5), (2449, 2539, "USD", 2480)):
    fig.add_artist(FancyBboxPatch((x0, H - 75), x1 - x0, 29, boxstyle="round,pad=0,rounding_size=5",
                                  transform=ID, fc="white", ec=BORDER, lw=1.0, zorder=15))
    fig.text(tx, H - 60.5, s, transform=ID, ha="center", va="center", fontsize=12.5, color=TXT, zorder=16)

def run(x, y, parts, size=13):
    for s, c, gap in parts:
        t = fig.text(x, H - y, s, transform=ID, ha="left", va="center", color=c, fontsize=size, zorder=12)
        x += t.get_window_extent(R).width + gap
    return x

fig.text(16, H - 23, header, transform=ID, ha="left", va="center", fontsize=13, color=TXT)

vchg = vy[-1] - vy[-2]
schg = sy[-1] - sy[-2]
run(100, 63.0, [("VIXEQ-VIX · 1D · CBOE", TXT, 13), (f"{vy[-1]:.2f}", TXT, 13),
                (f"{vchg:+.2f} ({vchg / vy[-2] * 100:+.2f}%)", TXT, 0)])
run(100, 86.5, [("Vol: The data vendor doesn't provide volume data for this symbol.", TXT, 0)])
run(100, 110.5, [("SPX · SPCFD", TXT, 13), (f"{sy[-1]:,.2f}", GREEN, 13),
                 (f"{schg:+.2f} ({schg / sy[-2] * 100:+.2f}%)", GREEN, 0)])
run(100, 1047.5, [("RSI (14, close)", TXT, 10), (f"{ry[-1]:.2f}", PURPLE, 10), (f"{my[-1]:.2f}", YELLOW, 0)], size=12.5)

# time axis labels
YT = H - 1385.5
for d, s, bold in time_labels:
    fig.text(xpix(ax_r, dnum(d)), YT, s, transform=ID, ha="center", va="center", fontsize=14,
             fontweight="bold" if bold else "normal", color=TXT)

# date boxes on the time axis; a label running under the next box shows only its visible part
all_marks = [(d, PURPLE) for d in purple_marks] + [(d, RED) for d in red_marks]
BOXW = 144
z = 20
for i, (d, col) in enumerate(all_marks):
    xc = xpix(ax_r, dnum(d))
    fig.add_artist(FancyBboxPatch((xc - BOXW / 2, H - 1400), BOXW, 35, boxstyle="round,pad=0,rounding_size=3",
                                  transform=ID, fc=col, ec="none", zorder=z))
    full = pd.Timestamp(d).strftime("%a %d %b '%y")
    probe = fig.text(0, 0, full, transform=ID, fontsize=13)
    wfull = probe.get_window_extent(R).width
    probe.remove()
    nxt = xpix(ax_r, dnum(all_marks[i + 1][0])) - BOXW / 2 if i + 1 < len(all_marks) else 1e9
    if xc + wfull / 2 > nxt:
        fig.text(xc - wfull / 2, YT, pd.Timestamp(d).strftime("%a %d %b"), transform=ID, ha="left",
                 va="center", fontsize=13, color="white", zorder=z + 1)
    else:
        fig.text(xc, YT, full, transform=ID, ha="center", va="center", fontsize=13, color="white", zorder=z + 1)
    z += 2

fig.add_artist(Circle((50.6, H - 1385), 13, transform=ID, fc="#f0f3fa", ec="none"))
fig.text(50.6, YT, "Z", transform=ID, ha="center", va="center", fontsize=11.5, color="#787b86")
fig.text(2406.6, YT, "A", transform=ID, ha="center", va="center", fontsize=11.5, color="#787b86")
fig.text(2494.8, YT, "B", transform=ID, ha="center", va="center", fontsize=11.5, color="#787b86")

# TradingView logo
fig.add_artist(Polygon([(17, H - 1433), (35, H - 1433), (35, H - 1456), (27, H - 1456), (27, H - 1441), (17, H - 1441)],
                       closed=True, transform=ID, fc="#131722", ec="none"))
fig.add_artist(Circle((41.5, H - 1437.5), 4.6, transform=ID, fc="#131722", ec="none"))
fig.add_artist(Polygon([(47, H - 1433), (58, H - 1433), (49, H - 1456), (38, H - 1456)],
                       closed=True, transform=ID, fc="#131722", ec="none"))
fig.text(66, H - 1444, "TradingView", transform=ID, ha="left", va="center", fontsize=22,
         fontweight="bold", color="#131722")

fig.savefig("out.png", dpi=100, facecolor="white")
